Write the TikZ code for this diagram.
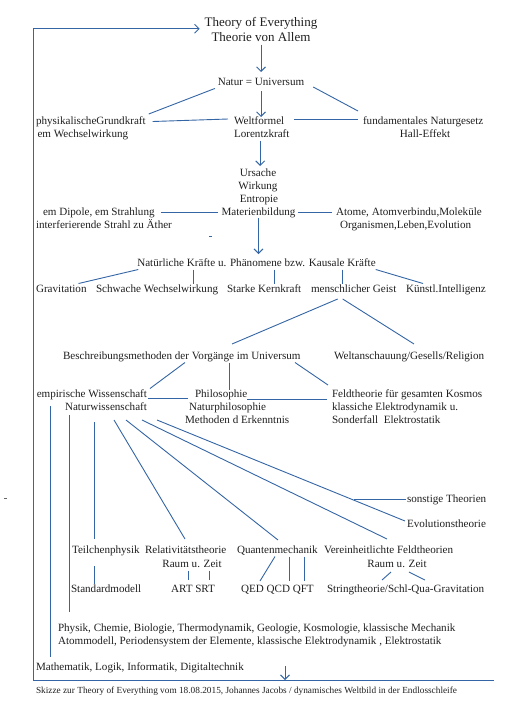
\documentclass[tikz,border=0pt]{standalone}
\usepackage{fontspec}
\setmainfont{Liberation Serif}
\usetikzlibrary{arrows.meta}
\definecolor{lblue}{RGB}{52,101,164}
\begin{document}
\begin{tikzpicture}[x=1pt,y=-1pt,
  txt/.style={inner sep=0pt,outer sep=0pt,font=\fontsize{11.1}{13}\selectfont,text height=9pt,text depth=3pt,text=black!88},
  ttl/.style={inner sep=0pt,outer sep=0pt,font=\fontsize{13}{15}\selectfont,text height=10pt,text depth=3.5pt,text=black!88},
  ftr/.style={inner sep=0pt,outer sep=0pt,font=\fontsize{9.3}{11}\selectfont,text=black!88},
  ln/.style={draw=lblue,line width=0.9pt},
  arr/.style={ln,-{Straight Barb[length=4.5pt,width=9pt]}},
]
\useasboundingbox (0,0) rectangle (527,707);

% ---------- texts ----------
\node[ttl,anchor=base] (t1) at (261,26) {Theory of Everything};
\node[ttl,anchor=base] (t2) at (261,41) {Theorie von Allem};
\node[txt,anchor=base] (natur) at (261,85.5) {Natur = Universum};
\node[txt,anchor=base west] (phys1) at (36,124.5) {physikalischeGrundkraft};
\node[txt,anchor=base west] (phys2) at (37.5,137.5) {em Wechselwirkung};
\node[txt,anchor=base west] (welt1) at (234,124) {Weltformel};
\node[txt,anchor=base west] (welt2) at (234,137.5) {Lorentzkraft};
\node[txt,anchor=base west] (fund1) at (363,124) {fundamentales Naturgesetz};
\node[txt,anchor=base] (fund2) at (425,137.5) {Hall-Effekt};
\node[txt,anchor=base] (urs) at (258,176) {Ursache};
\node[txt,anchor=base] (wirk) at (258,189) {Wirkung};
\node[txt,anchor=base] (entr) at (259,202) {Entropie};
\node[txt,anchor=base] (mat) at (258.5,215) {Materienbildung};
\node[txt,anchor=base west] (dip1) at (43,215) {em Dipole, em Strahlung};
\node[txt,anchor=base west] (dip2) at (36,228) {interferierende Strahl zu Äther};
\node[txt,anchor=base west] (atom1) at (336,215) {Atome, Atomverbindu,Moleküle};
\node[txt,anchor=base west] (atom2) at (340,228) {Organismen,Leben,Evolution};
\node[txt,anchor=base] (nat) at (256.5,266.5) {Natürliche Kräfte u. Phänomene bzw. Kausale Kräfte};
\node[txt,anchor=base west] (grav) at (36,292.5) {Gravitation};
\node[txt,anchor=base west] (schw) at (96,292.5) {Schwache Wechselwirkung};
\node[txt,anchor=base west] (stark) at (227,292.5) {Starke Kernkraft};
\node[txt,anchor=base west] (mensch) at (311,292.5) {menschlicher Geist};
\node[txt,anchor=base west] (kuen) at (406,292.5) {Künstl.Intelligenz};
\node[txt,anchor=base west] (besch) at (63,359.5) {Beschreibungsmethoden der Vorgänge im Universum};
\node[txt,anchor=base west] (welta) at (334,359.5) {Weltanschauung/Gesells/Religion};
\node[txt,anchor=base east] (emp1) at (147,397.5) {empirische Wissenschaft};
\node[txt,anchor=base east] (emp2) at (147,410.5) {Naturwissenschaft};
\node[txt,anchor=base west] (phil1) at (195,397.5) {Philosophie};
\node[txt,anchor=base west] (phil2) at (189,410.5) {Naturphilosophie};
\node[txt,anchor=base west] (phil3) at (185,423.5) {Methoden d Erkenntnis};
\node[txt,anchor=base west] (feld1) at (332,397.5) {Feldtheorie für gesamten Kosmos};
\node[txt,anchor=base west] (feld2) at (332,410.5) {klassiche Elektrodynamik u.};
\node[txt,anchor=base west] (feld3) at (332,423.5) {Sonderfall\ \ Elektrostatik};
\node[txt,anchor=base west] (sonst) at (407,502.5) {sonstige Theorien};
\node[txt,anchor=base west] (evol) at (407,527.5) {Evolutionstheorie};
\node[txt,anchor=base west] (teil) at (72,553.5) {Teilchenphysik};
\node[txt,anchor=base west] (rel) at (145,553.5) {Relativitätstheorie};
\node[txt,anchor=base] (rel2) at (192,567.5) {Raum u. Zeit};
\node[txt,anchor=base west] (quant) at (237,553.5) {Quantenmechanik};
\node[txt,anchor=base west] (ver) at (324,553.5) {Vereinheitlichte Feldtheorien};
\node[txt,anchor=base] (ver2) at (397,567.5) {Raum u. Zeit};
\node[txt,anchor=base west] (std) at (71,592.5) {Standardmodell};
\node[txt,anchor=base west] (art) at (171,592.5) {ART SRT};
\node[txt,anchor=base west] (qed) at (241,592.5) {QED QCD QFT};
\node[txt,anchor=base west] (string) at (327,592.5) {Stringtheorie/Schl-Qua-Gravitation};
\node[txt,anchor=base west] (phy1) at (58,631.5) {Physik, Chemie, Biologie, Thermodynamik, Geologie, Kosmologie, klassische Mechanik};
\node[txt,anchor=base west] (phy2) at (58,644.5) {Atommodell, Periodensystem der Elemente, klassische Elektrodynamik , Elektrostatik};
\node[txt,anchor=base west] (math) at (36,670.5) {Mathematik, Logik, Informatik, Digitaltechnik};
\node[ftr,anchor=base west] (foot) at (36,693) {Skizze zur Theory of Everything vom 18.08.2015, Johannes Jacobs / dynamisches Weltbild in der Endlosschleife};

% ---------- frame ----------
\coordinate (fbl) at (33,680);
\coordinate (fbr) at (494,680);
\coordinate (floop) at (285,680);
\draw[arr] (fbr) -- (fbl) |- ([shift={(-5pt,-6pt)}]t1.west);
\draw[arr] ([yshift=14pt]floop) -- (floop);

% ---------- connectors ----------
\draw[arr] (t2.south) -- ([yshift=4.5pt]natur.north);
\draw[ln] ([xshift=-3pt]natur.south west) -- ([shift={(3pt,1.5pt)}]phys1.north east);
\draw[ln] ([shift={(9pt,1.5pt)}]natur.south east) -- ([shift={(-5pt,4pt)}]fund1.north west);
\draw[arr] ([yshift=-2.5pt]natur.south) -- ([yshift=-2pt]natur.south |- welt1.north);
\draw[ln] ([xshift=7pt]phys1.east) -- ([shift={(-6pt,2pt)}]welt1.west);
\draw[ln] ([shift={(10pt,2pt)}]welt1.east) -- ([shift={(-5pt,2pt)}]fund1.west);
\draw[arr] ([xshift=-1.5pt]welt2.south) -- ([xshift=-1.5pt,yshift=1pt]welt2.south |- urs.north);
\draw[ln] ([xshift=6pt]dip1.east) -- ([xshift=-4pt]mat.west);
\draw[ln] ([xshift=3pt]mat.east) -- ([xshift=-4pt]atom1.west);
\draw[arr] (mat.south) -- ([yshift=3.5pt]mat.south |- nat.north);

\draw[ln] ([xshift=1pt]nat.south west) -- ([xshift=-8pt]grav.north east);
\draw[ln] (nat.south -| 193,0) -- (schw.north -| 193,0);
\draw[ln] (nat.south -| 274,0) -- (stark.north -| 274,0);
\draw[ln] (nat.south -| 342,0) -- (mensch.north -| 342,0);
\draw[ln] (nat.south east) -- ([xshift=17pt]kuen.north west);

\draw[ln] ([shift={(-16pt,-3.5pt)}]mensch.south) -- ([yshift=6.5pt]besch.north -| 232,0);
\draw[ln] ([shift={(-11pt,-3.5pt)}]mensch.south) -- ([yshift=6.5pt]welta.north -| 414,0);

\draw[ln] (besch.south -| 185,0) -- ([xshift=3pt]emp1.north east);
\draw[ln] (besch.south -| 229,0) -- ([yshift=-1.5pt]phil1.north -| 229,0);
\draw[ln] (besch.south -| 295,0) -- ([shift={(-4pt,3.5pt)}]feld1.north west);
\draw[ln] ([shift={(1pt,-3.5pt)}]emp1.east) -- ([shift={(-7pt,-3.5pt)}]phil1.west);
\draw[ln] ([yshift=-4.5pt]phil1.east) -- ([shift={(-5pt,-4.5pt)}]feld1.west);

\draw[ln] ([yshift=-5.5pt]emp1.south -| 50,0) -- ([yshift=4.5pt]math.north -| 50,0);
\draw[ln] ([yshift=-1.5pt]emp2.south -| 69,0) -- ([yshift=10.5pt]phy1.north -| 69,0);
\draw[ln] ([yshift=-8.5pt]emp2.south -| 94,0) -- ([yshift=5.5pt]teil.north -| 94,0);
\draw[ln] ([yshift=-9.5pt]teil.south -| 94,0) -- (std.north -| 94,0);

\draw[ln] ([yshift=-6.5pt]emp2.south -| 114,0) -- ([yshift=5.5pt]rel.north -| 185,0);
\draw[ln] ([yshift=-6.5pt]emp2.south -| 126,0) -- ([yshift=4.5pt]quant.north -| 278,0);
\draw[ln] ([yshift=-6.5pt]emp2.south -| 142,0) -- ([yshift=5.5pt]ver.north -| 387,0);
\draw[ln] ([yshift=-6.5pt]emp2.south -| 157,0) -- ([shift={(-2pt,-2.5pt)}]evol.north west);
\draw[ln] ([xshift=-53pt]sonst.west) -- ([xshift=-1pt]sonst.west);

\draw[ln] (rel2.south -| 188,0) -- ([yshift=3.5pt]art.north -| 188,0);
\draw[ln] (rel2.south -| 209,0) -- ([yshift=3.5pt]art.north -| 209,0);
\draw[ln] (quant.south -| 275,0) -- ([yshift=2.5pt]qed.north -| 260,0);
\draw[ln] (quant.south -| 289,0) -- ([yshift=2.5pt]qed.north -| 289,0);
\draw[ln] (quant.south -| 304,0) -- ([yshift=2.5pt]qed.north -| 304,0);
\draw[ln] ([yshift=-1.5pt]ver2.south -| 391,0) -- ([yshift=3.5pt]string.north -| 382,0);
\draw[ln] ([yshift=-1.5pt]ver2.south -| 409,0) -- ([yshift=3.5pt]string.north -| 425,0);

% stray marks
\draw[ln,line width=0.7pt] (209,236) -- (211.5,236);
\draw[draw=black!60,line width=0.6pt] (4,498) -- (6.5,498);
\end{tikzpicture}
\end{document}
